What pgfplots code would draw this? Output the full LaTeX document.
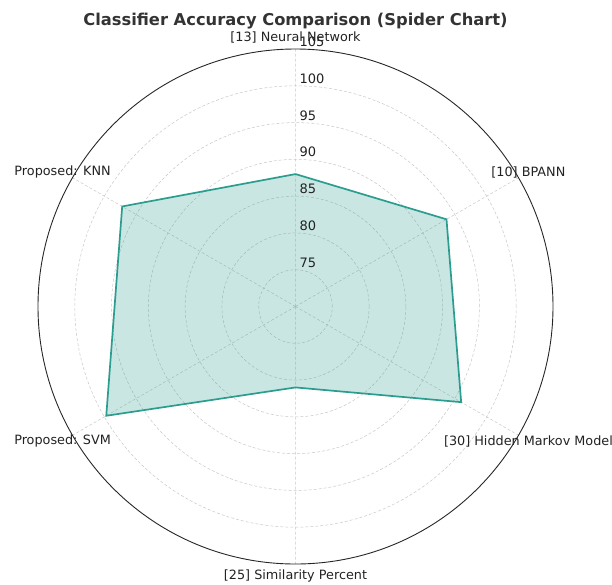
\documentclass[border=0pt]{standalone}
\usepackage{fontspec}
\setmainfont{DejaVu Sans}
\usepackage{pgfplots}
\pgfplotsset{compat=1.18}
\usepgfplotslibrary{polar}
\definecolor{teal1}{RGB}{42,157,143}
\definecolor{txt}{RGB}{34,34,34}
\begin{document}
\begin{tikzpicture}
\path[use as bounding box] (-295.5pt,-277.5pt) rectangle (316.5pt,306.5pt);
\begin{polaraxis}[
  at={(0pt,0pt)}, anchor=center,
  width=515pt, height=515pt, scale only axis,
  ymin=0, ymax=35,
  xtick={30,90,150,210,270,330}, xticklabels={},
  ytick={5,10,15,20,25,30}, yticklabels={},
  grid=major,
  major grid style={densely dashed, color=black!22, line width=0.5pt},
  axis line style={color=black!85, line width=0.9pt},
  y axis line style={draw=none},
  major tick length=0pt,
  clip=false,
]
\addplot[draw=teal1, line width=1.7pt, fill=teal1, fill opacity=0.25,
  y filter/.expression={y-70}] table[x=angle, y=acc] {
angle acc
90  88.0
30  93.7
330 96.0
270 81.0
210 99.7
150 97.2
90  88.0
};
\begin{scope}[every node/.style={font=\fontsize{13}{15}\selectfont, text=txt, anchor=base west, xshift=0.5pt, yshift=2.5pt}]
\node at (axis cs:90,5) {75};
\node at (axis cs:90,10) {80};
\node at (axis cs:90,15) {85};
\node at (axis cs:90,20) {90};
\node at (axis cs:90,25) {95};
\node at (axis cs:90,30) {100};
\node at (axis cs:90,35) {105};
\end{scope}
\begin{scope}[every node/.style={font=\fontsize{12.8}{14}\selectfont, text=txt, anchor=center}]
\node at (axis cs:90,36.56) {[13] Neural Network};
\node at (axis cs:30,36.56) {[10] BPANN};
\node at (axis cs:330,36.56) {[30] Hidden Markov Model};
\node at (axis cs:270,36.56) {[25] Similarity Percent};
\node at (axis cs:210,36.56) {Proposed: SVM};
\node at (axis cs:150,36.56) {Proposed: KNN};
\end{scope}
\end{polaraxis}
\node[font=\fontsize{16.3}{18}\selectfont\bfseries, text=black!80, anchor=base] at (0pt,280.5pt) {Classifier Accuracy Comparison (Spider Chart)};
\end{tikzpicture}
\end{document}
